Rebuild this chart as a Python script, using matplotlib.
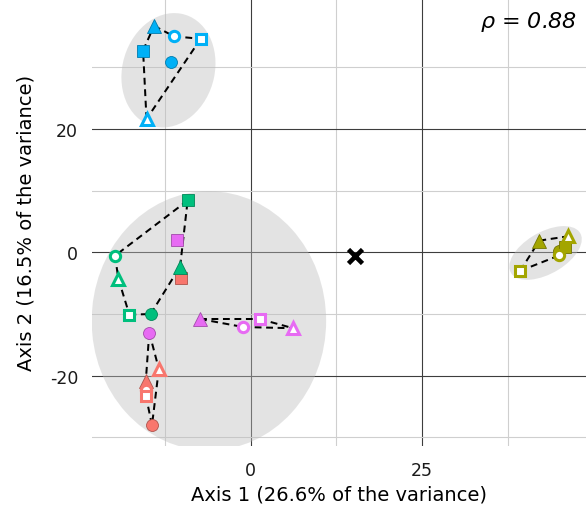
import matplotlib
matplotlib.use("Agg")
import matplotlib.pyplot as plt
from matplotlib.patches import Ellipse
from matplotlib.colors import to_rgb

# group colours (ggplot hue palette, 5 groups)
groups = ["red", "olive", "green", "blue", "magenta"]
colors = {"red": "#F8766D", "olive": "#A3A500", "green": "#00BF7D",
          "blue": "#00B0F6", "magenta": "#E76BF3"}

# point order in each group: filled circle, filled square, filled triangle,
# open circle, open square, open triangle
shapes = ["fc", "fs", "ft", "oc", "os", "ot"]
x_red = [-14.4, -10.1, -15.3, -15.3, -15.3, -13.4]
y_red = [-28.0, -4.1, -20.8, -22.3, -23.2, -18.9]
x_olive = [45.0, 45.8, 42.1, 45.0, 39.3, 46.3]
y_olive = [0.2, 0.8, 1.9, -0.5, -3.0, 2.6]
x_green = [-14.6, -9.2, -10.3, -19.8, -17.7, -19.3]
y_green = [-10.0, 8.4, -2.3, -0.55, -10.1, -4.3]
x_blue = [-11.6, -15.7, -14.1, -11.2, -7.3, -15.2]
y_blue = [30.9, 32.7, 36.7, 35.0, 34.6, 21.6]
x_magenta = [-14.8, -10.8, -7.4, -1.1, 1.3, 6.2]
y_magenta = [-13.0, 2.0, -10.8, -12.1, -10.8, -12.3]

# dashed connections between points
edges = [
    ("blue", "ft", "blue", "oc"), ("blue", "oc", "blue", "os"),
    ("blue", "os", "blue", "ot"), ("blue", "ot", "blue", "fs"),
    ("blue", "fs", "blue", "ft"),
    ("green", "fs", "green", "oc"), ("green", "oc", "green", "ot"),
    ("green", "ot", "green", "os"), ("green", "os", "green", "fc"),
    ("green", "fc", "green", "ft"), ("green", "ft", "green", "fs"),
    ("magenta", "ft", "magenta", "oc"), ("magenta", "ft", "magenta", "os"),
    ("magenta", "oc", "magenta", "ot"), ("magenta", "os", "magenta", "ot"),
    ("magenta", "fc", "red", "ft"), ("magenta", "fc", "red", "ot"),
    ("red", "ot", "red", "fc"), ("red", "os", "red", "fc"),
    ("olive", "os", "olive", "ft"), ("olive", "ft", "olive", "ot"),
    ("olive", "ot", "olive", "fs"), ("olive", "os", "olive", "oc"),
]

# cluster ellipses: centre, width, height, angle
ell_x = [-12.0, -6.1, 43.0]
ell_y = [29.5, -11.1, -0.1]
ell_w = [18.7, 34.2, 12.0]
ell_h = [13.5, 42.0, 6.6]
ell_angle = [79, 0, 34.5]

centroid = (15.2, -0.6)
rho_text = r"$\rho$ = 0.88"

xs = {"red": x_red, "olive": x_olive, "green": x_green, "blue": x_blue, "magenta": x_magenta}
ys = {"red": y_red, "olive": y_olive, "green": y_green, "blue": y_blue, "magenta": y_magenta}

def pos(g, s):
    i = shapes.index(s)
    return xs[g][i], ys[g][i]

def darker(c, f=0.7):
    r, g, b = to_rgb(c)
    return (r * f, g * f, b * f)

fig = plt.figure(figsize=(5.86, 5.10), dpi=100)
ax = fig.add_axes([92 / 586, 63.5 / 510, 494 / 586, 446.5 / 510])
ax.set_xlim(-23.15, 48.9)
ax.set_ylim(-31.3, 41.05)

# grid
ax.set_xticks([0, 25])
ax.set_yticks([-20, 0, 20])
ax.set_xticks([-12.5, 12.5, 37.5], minor=True)
ax.set_yticks([-30, -10, 10, 30], minor=True)
ax.grid(True, which="major", color="#3d3d3d", lw=0.8, zorder=0)
ax.grid(True, which="minor", color="#cfcfcf", lw=0.8, zorder=0)
ax.set_axisbelow(True)
for sp in ax.spines.values():
    sp.set_visible(False)
ax.tick_params(which="both", length=0)
ax.tick_params(axis="y", pad=10, labelsize=12.5, labelcolor="#1a1a1a")
ax.tick_params(axis="x", pad=11, labelsize=12.5, labelcolor="#1a1a1a")
ax.set_yticklabels(["-20", "0", "20"])

for cx, cy, w, h, a in zip(ell_x, ell_y, ell_w, ell_h, ell_angle):
    ax.add_patch(Ellipse((cx, cy), w, h, angle=a, facecolor="#bebebe",
                         alpha=0.42, edgecolor="none", zorder=1))

for g1, s1, g2, s2 in edges:
    x1, y1 = pos(g1, s1)
    x2, y2 = pos(g2, s2)
    ax.plot([x1, x2], [y1, y2], ls=(0, (3.4, 2.3)), color="black", lw=1.45, zorder=2)

markers = {"c": ("o", 8.6), "s": ("s", 8.8), "t": ("^", 10.5)}
for g in groups:
    c = colors[g]
    for i, s in enumerate(shapes):
        m, ms = markers[s[1]]
        if s[0] == "f":
            ax.plot(xs[g][i], ys[g][i], marker=m, ms=ms, color=c, mec=darker(c),
                    mew=0.6, ls="none", zorder=3)
        else:
            ax.plot(xs[g][i], ys[g][i], marker=m, ms=ms - 1.2, mfc="white", mec=c,
                    mew=2.2, ls="none", zorder=3)

ax.plot(*centroid, marker="x", ms=9.5, mew=3.3, color="black", zorder=3)

ax.set_xlabel("Axis 1 (26.6% of the variance)", fontsize=14, labelpad=4, color="black")
ax.set_ylabel("Axis 2 (16.5% of the variance)", fontsize=14, labelpad=10, color="black")

fig.text(577 / 586, 1 - 28 / 510, rho_text, ha="right", va="baseline",
         fontsize=16, style="italic")

fig.savefig("out.png", dpi=100)
